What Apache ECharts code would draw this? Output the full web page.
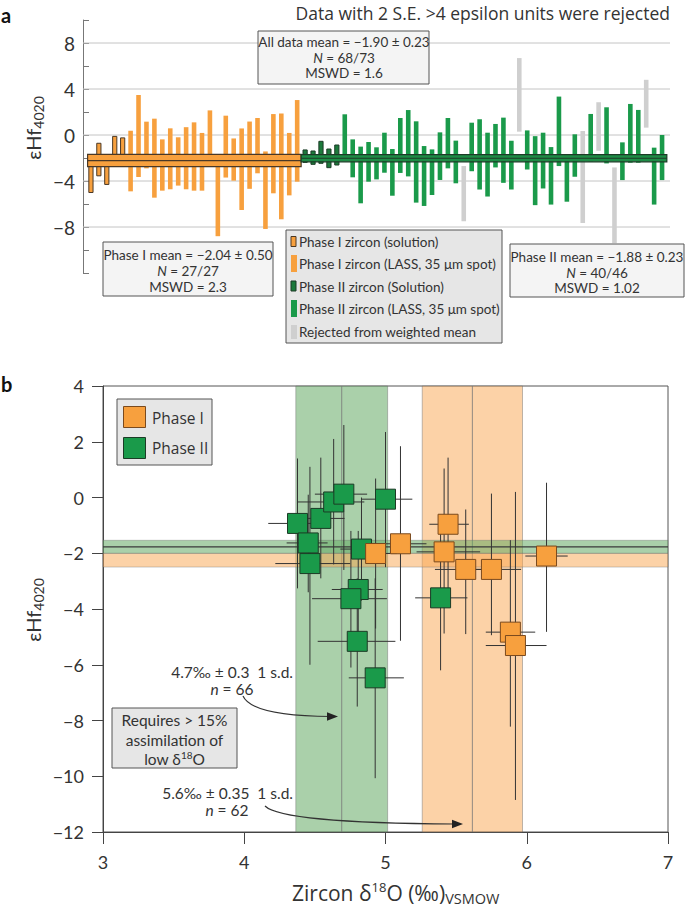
<!DOCTYPE html>
<html><head><meta charset="utf-8">
<script src="https://cdn.jsdelivr.net/npm/echarts@6/dist/echarts.min.js"></script>
<style>html,body{margin:0;padding:0;background:#fff}#c{width:685px;height:912px}</style>
</head><body><div id="c"></div>
<script>
// ---------- Panel a data (εHf4020 error bars, low/high) ----------
const phaseISolutionCount = 5;
const phaseILow  = [-5.0,-3.55,-4.3,-2.0,-2.0,-4.9,-3.65,-2.9,-5.45,-4.84,-4.72,-4.4,-4.72,-4.84,-4.84,-2.0,-8.8,-3.7,-3.97,-6.52,-4.68,-3.33,-8.17,-5.07,-7.33,-5.25,-4.06];
const phaseIHigh = [-1.8,-0.72,-2.4,-0.12,-0.25,0.37,3.48,1.16,1.42,-0.38,0.58,-0.2,0.68,1.1,0.18,2.14,-2.4,1.68,-0.3,0.57,1.17,1.48,-1.43,1.82,1.87,0.18,3.04];
const phaseIISolutionCount = 5;
const phaseIILow  = [-2.38,-2.55,-2.46,-2.84,-2.61,-2.0,-3.68,-5.94,-4.06,-3.86,-3.28,-5.28,-3.3,-3.6,-5.88,-6.17,-5.22,-3.91,-2.9,-4.2,-7.5,-3.15,-4.74,-5.35,-2.82,-4.16,-4.74,0.29,-3.0,-6.1,-4.65,-6.05,-2.7,-5.8,-3.63,-7.65,-2.3,-1.37,-2.47,-9.4,-3.92,-2.41,-2.41,0.64,-6.05,-3.92];
const phaseIIHigh = [-1.3,-1.39,-0.55,-1.22,-0.87,1.8,-0.38,-1.01,-0.61,-1.07,0.2,-1.22,1.48,2.17,1.19,-0.96,-1.25,0.23,1.48,-0.49,-2.7,1.07,1.37,0.2,0.96,1.51,-0.49,6.69,0.4,-0.1,0.2,-1.05,3.34,-2.0,0.06,0.35,1.83,2.85,2.41,-2.82,-0.64,2.7,2.18,4.8,-1.1,0.0];
const phaseIIRejected = [20,27,35,37,39,43];
// weighted-mean bands (as drawn): start/end bar index, mean, half-width
const meanBandStart = [-0.42, 26.5];
const meanBandEnd   = [26.5, 72.6];
const meanBandValue = [-2.22, -2.02];
const meanBandHalf  = [0.53, 0.31];
const gridTicksA = [-8,-4,0,4,8];

// ---------- Panel b data ----------
const phaseID18O   = [4.93,5.106,5.443,5.415,5.568,5.75,6.14,5.884,5.92];
const phaseIHf     = [-2.01,-1.66,-0.96,-1.95,-2.58,-2.58,-2.1,-4.83,-5.31];
const phaseID18OLo = [4.76,4.96,5.31,5.22,5.35,5.55,5.99,5.71,5.71];
const phaseID18OHi = [5.08,5.29,5.59,5.67,5.77,5.96,6.29,6.06,6.14];
const phaseIHfLo   = [-4.7,-5.14,-3.3,-4.88,-4.9,-4.94,-4.82,-8.22,-10.85];
const phaseIHfHi   = [0.68,1.84,1.43,1.04,-0.43,0.14,0.53,-1.53,0.2];

const phaseIID18O   = [4.377,4.453,4.465,4.542,4.633,4.705,5.0,4.83,4.807,4.755,4.80,4.927,5.39];
const phaseIIHf     = [-0.93,-1.63,-2.37,-0.75,-0.16,0.12,-0.06,-1.85,-3.3,-3.63,-5.16,-6.47,-3.6];
const phaseIID18OLo = [4.17,4.30,4.22,4.45,4.38,4.50,4.83,4.68,4.62,4.48,4.52,4.74,5.21];
const phaseIID18OHi = [4.58,4.59,4.75,4.71,4.85,4.87,5.19,4.97,4.98,5.01,5.07,5.13,5.58];
const phaseIIHfLo   = [-3.26,-3.4,-6.0,-2.9,-2.4,-2.6,-2.5,-3.7,-5.4,-6.1,-7.5,-10.07,-6.2];
const phaseIIHfHi   = [1.4,0.1,1.1,1.43,2.1,2.6,2.35,0.0,-1.2,-1.2,-2.9,-2.9,-1.0];

// bands in panel b: [Phase II, Phase I]
const d18OBandMean = [4.69, 5.615];
const d18OBandHalf = [0.325, 0.355];
const hfBandMean   = [-1.77, -2.25];
const hfBandHalf   = [0.235, 0.245];

// ---------- styles ----------
const FONT = 'Lato, "Open Sans", sans-serif';
const WIDE = '"Open Sans", Lato, sans-serif';
const ORANGE = '#f7a03e', ORANGE_EDGE = '#4a3826';
const GREEN = '#1a9a4a', GREEN_DARK = '#1d7a3c', GREEN_EDGE = '#1c3b26';
const GREY = '#cfcfcf';
const minus = v => (v < 0 ? '\u2212' + Math.abs(v) : String(v));

// ---------- build panel a series data ----------
const p1Sol = [], p1Lass = [], p2Sol = [], p2Lass = [], rej = [];
phaseILow.forEach((lo, i) => {
  (i < phaseISolutionCount ? p1Sol : p1Lass).push([i, lo, phaseIHigh[i]]);
});
phaseIILow.forEach((lo, j) => {
  const idx = phaseILow.length + j;
  const item = [idx, lo, phaseIIHigh[j]];
  if (phaseIIRejected.includes(j)) rej.push(item);
  else if (j < phaseIISolutionCount) p2Sol.push(item);
  else p2Lass.push(item);
});

function barRender(fill, stroke, width) {
  return function (params, api) {
    const x = api.value(0), lo = api.value(1), hi = api.value(2);
    const t = api.coord([x, hi]), b = api.coord([x, lo]);
    return {type: 'rect', shape: {x: t[0] - width / 2, y: t[1], width: width, height: b[1] - t[1]},
      style: {fill: fill, stroke: stroke || null, lineWidth: stroke ? 1 : 0}};
  };
}
const bandFill = [ORANGE, '#1e8c46'];
const bandStroke = [ORANGE_EDGE, GREEN_EDGE];
function bandARender(params, api) {
  const x0 = api.value(0), x1 = api.value(1), m = api.value(2), h = api.value(3);
  const p0 = api.coord([x0, m + h]), p1 = api.coord([x1, m - h]);
  const c0 = api.coord([x0, m]), c1 = api.coord([x1, m]);
  const k = params.dataIndex;
  return {type: 'group', children: [
    {type: 'rect', shape: {x: p0[0], y: p0[1], width: p1[0] - p0[0], height: p1[1] - p0[1]},
      style: {fill: bandFill[k], stroke: bandStroke[k], lineWidth: 1.2}},
    {type: 'line', shape: {x1: c0[0], y1: c0[1], x2: c1[0], y2: c1[1]}, style: {stroke: bandStroke[k], lineWidth: 1.2}}
  ]};
}
function gridRender(params, api) {
  const v = api.value(0);
  const a = api.coord([-1, v]), b = api.coord([73, v]);
  return {type: 'line', shape: {x1: a[0], y1: a[1], x2: b[0], y2: b[1]}, style: {stroke: '#c4c4c4', lineWidth: 1}};
}

// ---------- panel b renderers ----------
const vBandFill = ['rgba(100,170,100,0.55)', 'rgba(250,165,80,0.5)'];
const hBandFill = ['rgba(100,170,100,0.55)', 'rgba(250,165,80,0.5)'];
function vBandRender(params, api) {
  const m = api.value(0), h = api.value(1), k = params.dataIndex;
  const p0 = api.coord([m - h, 4]), p1 = api.coord([m + h, -12]);
  const c0 = api.coord([m, 4]), c1 = api.coord([m, -12]);
  return {type: 'group', children: [
    {type: 'rect', shape: {x: p0[0], y: p0[1], width: p1[0] - p0[0], height: p1[1] - p0[1]},
      style: {fill: vBandFill[k], stroke: 'rgba(110,110,110,0.45)', lineWidth: 1}},
    {type: 'line', shape: {x1: c0[0], y1: c0[1], x2: c1[0], y2: c1[1]}, style: {stroke: 'rgba(120,120,120,0.8)', lineWidth: 1}}
  ]};
}
function hBandRender(params, api) {
  const m = api.value(0), h = api.value(1), k = params.dataIndex;
  const p0 = api.coord([3, m + h]), p1 = api.coord([7, m - h]);
  const c0 = api.coord([3, m]), c1 = api.coord([7, m]);
  const ch = [{type: 'rect', shape: {x: p0[0], y: p0[1], width: p1[0] - p0[0], height: p1[1] - p0[1]},
      style: {fill: hBandFill[k], stroke: 'rgba(110,110,110,0.35)', lineWidth: 1}}];
  if (k === 0) ch.push({type: 'line', shape: {x1: c0[0], y1: c0[1], x2: c1[0], y2: c1[1]}, style: {stroke: '#3a3a3a', lineWidth: 1.2}});
  return {type: 'group', children: ch};
}
function errRender(params, api) {
  const x = api.value(0), y = api.value(1);
  const a = api.coord([api.value(2), y]), b = api.coord([api.value(3), y]);
  const c = api.coord([x, api.value(4)]), d = api.coord([x, api.value(5)]);
  return {type: 'group', children: [
    {type: 'line', shape: {x1: a[0], y1: a[1], x2: b[0], y2: b[1]}, style: {stroke: '#333', lineWidth: 1}},
    {type: 'line', shape: {x1: c[0], y1: c[1], x2: d[0], y2: d[1]}, style: {stroke: '#333', lineWidth: 1}}
  ]};
}
const errData = [];
phaseIID18O.forEach((x, i) => errData.push([x, phaseIIHf[i], phaseIID18OLo[i], phaseIID18OHi[i], phaseIIHfLo[i], phaseIIHfHi[i]]));
phaseID18O.forEach((x, i) => errData.push([x, phaseIHf[i], phaseID18OLo[i], phaseID18OHi[i], phaseIHfLo[i], phaseIHfHi[i]]));

// ---------- graphic helpers ----------
function T(x, y, text, o) {
  o = o || {};
  const st = {text: text, fill: o.color || '#333', fontSize: o.size || 13.5, fontFamily: o.font || FONT,
    fontWeight: o.weight || 'normal', align: o.align || 'left', verticalAlign: 'middle',
    textAlign: o.align || 'left', textVerticalAlign: 'middle'};
  if (o.rich) st.rich = o.rich;
  return {type: 'text', x: x, y: y, z: 100, rotation: o.rot || 0, style: st};
}
function R(x, y, w, h, fill, stroke, lw) {
  return {type: 'rect', z: 99, shape: {x: x, y: y, width: w, height: h},
    style: {fill: fill, stroke: stroke || null, lineWidth: stroke ? (lw || 1) : 0}};
}
const italicRich = {i: {fontStyle: 'italic', fontSize: 13.5, fontFamily: FONT, fill: '#333'}};
const italicRichB = {i: {fontStyle: 'italic', fontSize: 15.5, fontFamily: FONT, fill: '#333'}};
const hfRich = {
  e: {fontSize: 20, fontFamily: FONT, fill: '#333', lineHeight: 24},
  s: {fontSize: 14, fontFamily: FONT, fill: '#333', lineHeight: 12, verticalAlign: 'bottom'}
};

const graphics = [
  T(1, 15, 'a', {weight: 'bold', size: 20, color: '#111'}),
  T(1, 384, 'b', {weight: 'bold', size: 20, color: '#111'}),
  T(670, 13, 'Data with 2 S.E. >4 epsilon units were rejected', {align: 'right', size: 17.5, font: WIDE}),
  T(33, 128, '{e|εHf}{s|4020}', {align: 'center', rot: Math.PI / 2, rich: hfRich}),
  T(33, 610, '{e|εHf}{s|4020}', {align: 'center', rot: Math.PI / 2, rich: hfRich}),
  // all data box
  R(258, 31, 171, 53, '#f4f4f4', '#555'),
  T(344, 42, 'All data mean = \u22121.90 \u00b1 0.23', {align: 'center'}),
  T(344, 57.5, '{i|N} = 68/73', {align: 'center', rich: italicRich}),
  T(344, 73, 'MSWD = 1.6', {align: 'center'}),
  // Phase I box
  R(103, 242, 170, 54, '#f4f4f4', '#555'),
  T(188, 255, 'Phase I mean = \u22122.04 \u00b1 0.50', {align: 'center'}),
  T(188, 271, '{i|N} = 27/27', {align: 'center', rich: italicRich}),
  T(188, 287, 'MSWD = 2.3', {align: 'center'}),
  // Phase II box
  R(510, 244, 174, 53, '#f4f4f4', '#555'),
  T(597, 257, 'Phase II mean = \u22121.88 \u00b1 0.23', {align: 'center'}),
  T(597, 272.5, '{i|N} = 40/46', {align: 'center', rich: italicRich}),
  T(597, 288, 'MSWD = 1.02', {align: 'center'}),
  // legend a
  R(286, 230, 216, 113, '#e6e6e6', '#555'),
  R(291, 236.5, 5, 10, ORANGE, ORANGE_EDGE),
  R(291, 255, 6, 17, ORANGE),
  R(291, 281, 5, 10, GREEN_DARK, GREEN_EDGE),
  R(291, 300, 6, 17, GREEN),
  R(291, 325, 6, 14, GREY),
  T(299, 242, 'Phase I zircon (solution)'),
  T(299, 264, 'Phase I zircon (LASS, 35 \u03bcm spot)'),
  T(299, 286.5, 'Phase II zircon (Solution)'),
  T(299, 308.5, 'Phase II zircon (LASS, 35 \u03bcm spot)'),
  T(299, 331.5, 'Rejected from weighted mean'),
  // legend b
  R(117, 399, 95, 66, '#e6e6e6', '#555'),
  R(123.5, 406.5, 22, 21, ORANGE, '#7a4a1e'),
  R(123.5, 437.5, 22, 21, GREEN, GREEN_EDGE),
  T(152, 418, 'Phase I', {size: 15.5, font: WIDE}),
  T(152, 448, 'Phase II', {size: 15.5, font: WIDE}),
  // annotation box
  R(112, 708, 125, 60, '#e6e6e6', '#555'),
  T(174.5, 720, 'Requires > 15%', {align: 'center', size: 15.5}),
  T(174.5, 739.5, 'assimilation of', {align: 'center', size: 15.5}),
  T(174.5, 759, '{n|low \u03b4}{sup|18}{n|O}', {align: 'center', rich: {
    n: {fontSize: 15.5, fontFamily: FONT, fill: '#333', lineHeight: 18},
    sup: {fontSize: 10, fontFamily: FONT, fill: '#333', lineHeight: 11, verticalAlign: 'top'}}}),
  T(293, 672, '4.7\u2030 \u00b1 0.3  1 s.d.', {align: 'right', size: 15.5}),
  T(232, 688.5, '{i|n} = 66', {align: 'center', size: 15.5, rich: italicRichB}),
  T(293, 793, '5.6\u2030 \u00b1 0.35  1 s.d.', {align: 'right', size: 15.5}),
  T(227, 809.5, '{i|n} = 62', {align: 'center', size: 15.5, rich: italicRichB}),
  {type: 'bezierCurve', z: 100, shape: {x1: 243, y1: 696, x2: 331, y2: 716.5, cpx1: 252, cpy1: 716},
    style: {stroke: '#333', lineWidth: 1.2, fill: null}},
  {type: 'polygon', z: 100, shape: {points: [[338, 716.5], [327, 712.3], [327, 720.7]]}, style: {fill: '#222'}},
  {type: 'bezierCurve', z: 100, shape: {x1: 265, y1: 806, x2: 455, y2: 824, cpx1: 282, cpy1: 823},
    style: {stroke: '#333', lineWidth: 1.2, fill: null}},
  {type: 'polygon', z: 100, shape: {points: [[463, 824], [452, 819.8], [452, 828.2]]}, style: {fill: '#222'}},
  // x title b
  T(292, 893, '{t|Zircon \u03b4}{sup|18}{t|O (\u2030)}{sub|VSMOW}', {rich: {
    t: {fontSize: 21, fontFamily: WIDE, fill: '#333', lineHeight: 26},
    sup: {fontSize: 13, fontFamily: WIDE, fill: '#333', lineHeight: 14, verticalAlign: 'top'},
    sub: {fontSize: 14.5, fontFamily: WIDE, fill: '#333', lineHeight: 12, verticalAlign: 'bottom'}}})
];

const chart = echarts.init(document.getElementById('c'), null, {renderer: 'svg', width: 685, height: 912});
chart.setOption({
  animation: false,
  backgroundColor: '#fff',
  textStyle: {fontFamily: FONT},
  grid: [
    {left: 83, right: 15, top: 20, height: 253},
    {left: 103, right: 17, top: 386, height: 446, show: true, borderColor: '#555', borderWidth: 1, backgroundColor: 'transparent'}
  ],
  xAxis: [
    {gridIndex: 0, type: 'value', min: -1, max: 73, show: false, axisLine: {onZero: false}},
    {gridIndex: 1, type: 'value', min: 3, max: 7, interval: 1, position: 'bottom',
      axisLine: {show: true, onZero: false, lineStyle: {color: '#444'}},
      axisTick: {show: true, length: 12, lineStyle: {color: '#444'}},
      axisLabel: {fontSize: 18, color: '#333', margin: 21, fontFamily: FONT},
      splitLine: {show: false}}
  ],
  yAxis: [
    {gridIndex: 0, type: 'value', min: -12, max: 10, interval: 2, position: 'left',
      axisLine: {show: true, onZero: false, lineStyle: {color: '#777'}},
      axisTick: {show: true, inside: true, length: 6, lineStyle: {color: '#777'}},
      axisLabel: {fontSize: 19, color: '#333', margin: 8, fontFamily: FONT,
        formatter: v => (gridTicksA.includes(v) ? minus(v) : '')},
      splitLine: {show: false}},
    {gridIndex: 1, type: 'value', min: -12, max: 4, interval: 2, position: 'left',
      axisLine: {show: true, onZero: false, lineStyle: {color: '#444'}},
      axisTick: {show: true, length: 11, lineStyle: {color: '#444'}},
      axisLabel: {fontSize: 18, color: '#333', margin: 19, fontFamily: FONT, formatter: minus},
      splitLine: {show: false}}
  ],
  series: [
    {type: 'custom', xAxisIndex: 0, yAxisIndex: 0, z: 1, renderItem: gridRender, data: gridTicksA.map(v => [v, v]), silent: true},
    {type: 'custom', name: 'Phase I zircon (LASS)', xAxisIndex: 0, yAxisIndex: 0, z: 2, renderItem: barRender(ORANGE, null, 4.6), data: p1Lass},
    {type: 'custom', name: 'Phase I zircon (solution)', xAxisIndex: 0, yAxisIndex: 0, z: 2, renderItem: barRender(ORANGE, ORANGE_EDGE, 4.2), data: p1Sol},
    {type: 'custom', name: 'Phase II zircon (LASS)', xAxisIndex: 0, yAxisIndex: 0, z: 2, renderItem: barRender(GREEN, null, 4.6), data: p2Lass},
    {type: 'custom', name: 'Phase II zircon (Solution)', xAxisIndex: 0, yAxisIndex: 0, z: 2, renderItem: barRender(GREEN_DARK, GREEN_EDGE, 4.2), data: p2Sol},
    {type: 'custom', name: 'Rejected', xAxisIndex: 0, yAxisIndex: 0, z: 2, renderItem: barRender(GREY, null, 4.6), data: rej},
    {type: 'custom', name: 'Mean', xAxisIndex: 0, yAxisIndex: 0, z: 3, renderItem: bandARender,
      data: meanBandStart.map((s, i) => [s, meanBandEnd[i], meanBandValue[i], meanBandHalf[i]])},
    {type: 'custom', xAxisIndex: 1, yAxisIndex: 1, z: 1, renderItem: vBandRender,
      data: d18OBandMean.map((m, i) => [m, d18OBandHalf[i]])},
    {type: 'custom', xAxisIndex: 1, yAxisIndex: 1, z: 1, renderItem: hBandRender,
      data: hfBandMean.map((m, i) => [m, hfBandHalf[i]])},
    {type: 'custom', xAxisIndex: 1, yAxisIndex: 1, z: 2, renderItem: errRender, data: errData},
    {type: 'scatter', name: 'Phase II', xAxisIndex: 1, yAxisIndex: 1, z: 3, symbol: 'rect', symbolSize: 20,
      itemStyle: {color: GREEN, borderColor: GREEN_EDGE, borderWidth: 1, opacity: 1},
      data: phaseIID18O.map((x, i) => [x, phaseIIHf[i]])},
    {type: 'scatter', name: 'Phase I', xAxisIndex: 1, yAxisIndex: 1, z: 4, symbol: 'rect', symbolSize: 20,
      itemStyle: {color: ORANGE, borderColor: '#7a4a1e', borderWidth: 1, opacity: 1},
      data: phaseID18O.map((x, i) => [x, phaseIHf[i]])}
  ],
  graphic: {elements: graphics}
});
</script></body></html>
